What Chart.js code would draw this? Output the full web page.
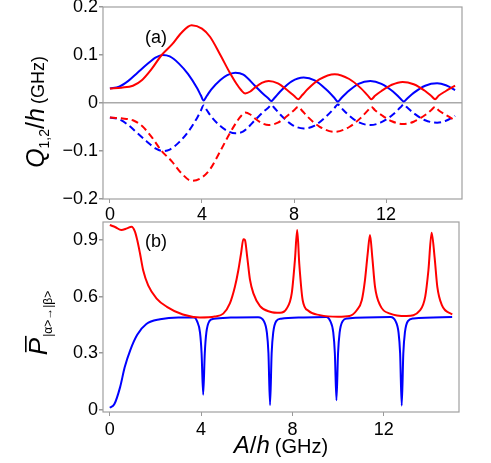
<!DOCTYPE html>
<html>
<head>
<meta charset="utf-8">
<script src="https://cdn.jsdelivr.net/npm/chart.js@4.4.1/dist/chart.umd.min.js"></script>
<style>
  html, body { margin: 0; padding: 0; background: #fff; }
  #wrap { position: relative; width: 491px; height: 463px; overflow: hidden; }
  canvas { position: absolute; left: 0; }
  #topChart { top: 0; }
  #bottomChart { top: 214px; }
</style>
</head>
<body>
<div id="wrap">
  <canvas id="topChart" width="491" height="230"></canvas>
  <canvas id="bottomChart" width="491" height="249"></canvas>
</div>
<script>
// tick values
const xTicks = [0, 4, 8, 12];
const qTicks = [-0.2, -0.1, 0, 0.1, 0.2];
const pTicks = [0, 0.3, 0.6, 0.9];

// (a) Q1,2/h : blue and red, solid = + branch, dashed = - branch
const qBlueX = [0, 0.4, 0.8, 1.2, 1.6, 2.0, 2.3, 2.6, 3.0, 3.4, 3.8, 3.95, 4.07, 4.2, 4.4, 4.8, 5.1, 5.45, 5.8, 6.3, 6.7, 6.88, 7.01, 7.14, 7.4, 7.9, 8.42, 8.9, 9.4, 9.75, 9.9, 10.05, 10.3, 10.8, 11.32, 11.8, 12.3, 12.63, 12.77, 12.91, 13.2, 13.7, 14.22, 14.6, 15.0];
const qBlueY = [0.030, 0.034, 0.046, 0.063, 0.080, 0.095, 0.100, 0.097, 0.082, 0.060, 0.030, 0.016, 0.005, 0.014, 0.028, 0.048, 0.058, 0.063, 0.059, 0.036, 0.017, 0.010, 0.004, 0.010, 0.024, 0.045, 0.053, 0.047, 0.028, 0.011, 0.003, 0.010, 0.022, 0.040, 0.046, 0.040, 0.024, 0.009, 0.003, 0.009, 0.021, 0.036, 0.041, 0.037, 0.027];
const qBlueNegY = [-0.030, -0.034, -0.046, -0.063, -0.080, -0.095, -0.100, -0.097, -0.082, -0.060, -0.030, -0.016, -0.005, -0.014, -0.028, -0.048, -0.058, -0.063, -0.059, -0.036, -0.017, -0.010, -0.004, -0.010, -0.024, -0.045, -0.053, -0.047, -0.028, -0.011, -0.003, -0.010, -0.022, -0.040, -0.046, -0.040, -0.024, -0.009, -0.003, -0.009, -0.021, -0.036, -0.041, -0.037, -0.027];

const qRedX = [0, 0.5, 1.0, 1.4, 1.8, 2.25, 2.7, 3.1, 3.55, 4.0, 4.35, 4.8, 5.2, 5.5, 5.7, 5.88, 6.1, 6.3, 6.6, 6.9, 7.3, 7.7, 8.0, 8.18, 8.35, 8.6, 9.1, 9.77, 10.4, 10.9, 11.2, 11.36, 11.52, 11.8, 12.25, 12.72, 13.2, 13.7, 13.98, 14.13, 14.28, 14.6, 15.0];
const qRedY = [0.030, 0.032, 0.036, 0.048, 0.070, 0.100, 0.122, 0.146, 0.162, 0.155, 0.138, 0.100, 0.064, 0.040, 0.027, 0.020, 0.024, 0.032, 0.042, 0.046, 0.041, 0.027, 0.015, 0.008, 0.016, 0.029, 0.049, 0.060, 0.050, 0.031, 0.016, 0.008, 0.015, 0.025, 0.038, 0.044, 0.039, 0.025, 0.014, 0.008, 0.015, 0.025, 0.036];
const qRedNegY = [-0.030, -0.032, -0.036, -0.048, -0.070, -0.100, -0.122, -0.146, -0.162, -0.155, -0.138, -0.100, -0.064, -0.040, -0.027, -0.020, -0.024, -0.032, -0.042, -0.046, -0.041, -0.027, -0.015, -0.008, -0.016, -0.029, -0.049, -0.060, -0.050, -0.031, -0.016, -0.008, -0.015, -0.025, -0.038, -0.044, -0.039, -0.025, -0.014, -0.008, -0.015, -0.025, -0.036];

// (b) averaged transition probability
const pRedX = [0, 0.25, 0.5, 0.75, 0.95, 1.1, 1.2, 1.32, 1.46, 1.68, 2.05, 2.5, 3.2, 3.95, 4.6, 4.97, 5.26, 5.48, 5.63, 5.75, 5.85, 5.92, 6.02, 6.14, 6.29, 6.58, 7.02, 7.46, 7.75, 7.97, 8.11, 8.21, 8.3, 8.45, 8.7, 9.2, 10.0, 10.5, 10.82, 11.04, 11.18, 11.3, 11.4, 11.5, 11.62, 11.84, 12.28, 13.0, 13.6, 13.82, 13.96, 14.1, 14.23, 14.35, 14.55, 15.0];
const pRedY = [0.980, 0.968, 0.953, 0.962, 0.971, 0.945, 0.900, 0.830, 0.740, 0.660, 0.590, 0.546, 0.505, 0.490, 0.495, 0.510, 0.564, 0.652, 0.740, 0.830, 0.905, 0.900, 0.810, 0.690, 0.617, 0.550, 0.520, 0.514, 0.537, 0.617, 0.794, 0.953, 0.776, 0.581, 0.525, 0.502, 0.493, 0.497, 0.528, 0.581, 0.688, 0.830, 0.927, 0.810, 0.652, 0.555, 0.510, 0.497, 0.528, 0.600, 0.740, 0.939, 0.810, 0.652, 0.555, 0.505];

const pBlueX = [0, 0.2, 0.45, 0.65, 0.9, 1.2, 1.6, 2.2, 3.0, 3.7, 3.82, 3.95, 4.02, 4.09, 4.16, 4.23, 4.36, 4.55, 5.3, 6.5, 6.75, 6.88, 6.95, 7.02, 7.09, 7.16, 7.29, 7.5, 8.5, 9.5, 9.66, 9.79, 9.86, 9.93, 10.0, 10.07, 10.2, 10.4, 12.3, 12.52, 12.65, 12.72, 12.79, 12.86, 12.93, 13.06, 13.3, 15.0];
const pBlueY = [0.010, 0.030, 0.120, 0.225, 0.318, 0.398, 0.455, 0.480, 0.490, 0.490, 0.470, 0.410, 0.300, 0.080, 0.300, 0.410, 0.470, 0.482, 0.489, 0.491, 0.470, 0.410, 0.300, 0.025, 0.300, 0.410, 0.470, 0.483, 0.490, 0.492, 0.470, 0.410, 0.300, 0.050, 0.300, 0.410, 0.470, 0.484, 0.492, 0.470, 0.410, 0.300, 0.022, 0.300, 0.410, 0.470, 0.484, 0.492];

const RED = '#ff0000';
const BLUE = '#0000ff';
const FONT = "'Liberation Sans', Arial, sans-serif";
const FRAME = '#a0a0a0';

function line(xs, ys, color, dashed) {
  return {
    data: xs.map((x, i) => ({ x, y: ys[i] })),
    showLine: true,
    borderColor: color,
    borderWidth: 2,
    borderDash: dashed ? [7, 4] : [],
    pointRadius: 0,
    cubicInterpolationMode: 'monotone',
    fill: false
  };
}

function minusLabel(v) {
  if (v === 0) return '0';
  return v < 0 ? '\u2212' + Math.abs(v) : String(v);
}

// no extra padding from tick labels, so the plot box lands where the layout says
function noPad(s) {
  s.paddingTop = 0; s.paddingBottom = 0; s.paddingLeft = 0; s.paddingRight = 0;
}

function xScale(axisHeight, pad) {
  return {
    type: 'linear', min: -0.3, max: 15.3,
    afterBuildTicks: s => { s.ticks = xTicks.map(v => ({ value: v })); },
    afterFit: s => { s.height = axisHeight; noPad(s); },
    grid: { drawOnChartArea: false, tickLength: 4, tickColor: '#999' },
    border: { display: false },
    ticks: { color: '#000', font: { family: FONT, size: 18 }, padding: pad, maxRotation: 0, callback: v => String(v) }
  };
}

function yScale(min, max, ticks, zeroLine) {
  return {
    type: 'linear', min, max,
    afterBuildTicks: s => { s.ticks = ticks.map(v => ({ value: v })); },
    afterFit: s => { s.width = 103; noPad(s); },
    grid: {
      drawOnChartArea: zeroLine,
      color: c => (zeroLine && c.tick && c.tick.value === 0) ? '#aaaaaa' : 'rgba(0,0,0,0)',
      lineWidth: 1.5,
      tickLength: 4,
      tickColor: '#999'
    },
    border: { display: false },
    ticks: { color: '#000', font: { family: FONT, size: 18 }, padding: 1, callback: minusLabel }
  };
}

// gray box round the plot area
const framePlugin = {
  id: 'frame',
  afterDatasetsDraw(chart) {
    const { ctx, chartArea: a } = chart;
    ctx.save();
    ctx.strokeStyle = FRAME;
    ctx.lineWidth = 1.2;
    ctx.strokeRect(a.left, a.top, a.right - a.left, a.bottom - a.top);
    ctx.restore();
  }
};

// text made of pieces with different fonts, centred on (cx, baseline cy)
function drawRuns(ctx, runs, cx, cy, rotate) {
  ctx.save();
  ctx.translate(cx, cy);
  if (rotate) ctx.rotate(-Math.PI / 2);
  ctx.fillStyle = '#000';
  ctx.textAlign = 'left';
  ctx.textBaseline = 'alphabetic';
  let total = 0;
  runs.forEach(r => { ctx.font = r.font; total += ctx.measureText(r.text).width + (r.gap || 0); });
  let x = -total / 2;
  runs.forEach(r => {
    ctx.font = r.font;
    const w = ctx.measureText(r.text).width;
    ctx.fillText(r.text, x, r.dy || 0);
    if (r.bar !== undefined) ctx.fillRect(x + 3, r.bar, w - 1, 1.6);
    x += w + (r.gap || 0);
  });
  ctx.restore();
}

const topText = {
  id: 'topText',
  afterDraw(chart) {
    const ctx = chart.ctx;
    ctx.save();
    ctx.font = '18px ' + FONT;
    ctx.fillStyle = '#000';
    ctx.textAlign = 'center';
    ctx.textBaseline = 'middle';
    ctx.fillText('(a)', 156, 38);
    ctx.restore();
    drawRuns(ctx, [
      { text: 'Q', font: 'italic 25px ' + FONT },
      { text: '1,2', font: '14px ' + FONT, dy: 5 },
      { text: '/', font: '25px ' + FONT },
      { text: 'h', font: 'italic 25px ' + FONT, gap: 4 },
      { text: '(GHz)', font: '18px ' + FONT }
    ], 44, 112, true);
  }
};

const bottomText = {
  id: 'bottomText',
  afterDraw(chart) {
    const ctx = chart.ctx;
    ctx.save();
    ctx.font = '18px ' + FONT;
    ctx.fillStyle = '#000';
    ctx.textAlign = 'center';
    ctx.textBaseline = 'middle';
    ctx.fillText('(b)', 156, 28);
    ctx.restore();
    drawRuns(ctx, [
      { text: 'P', font: 'italic 26px ' + FONT, bar: -22, gap: 1 },
      { text: '|\u03b1>\u2192|\u03b2>', font: '12px ' + FONT, dy: 5 }
    ], 47, 109, true);
    drawRuns(ctx, [
      { text: 'A', font: 'italic 24px ' + FONT },
      { text: '/', font: '24px ' + FONT },
      { text: 'h', font: 'italic 24px ' + FONT, gap: 5 },
      { text: '(GHz)', font: '20px ' + FONT }
    ], 281, 239, false);
  }
};

new Chart(document.getElementById('topChart'), {
  type: 'scatter',
  data: {
    datasets: [
      line(qRedX, qRedY, RED, false),
      line(qBlueX, qBlueY, BLUE, false),
      line(qRedX, qRedNegY, RED, true),
      line(qBlueX, qBlueNegY, BLUE, true)
    ]
  },
  options: {
    responsive: false,
    animation: false,
    layout: { padding: { top: 7, right: 29, left: 0, bottom: 0 } },
    plugins: { legend: { display: false }, tooltip: { enabled: false } },
    scales: { x: xScale(31, 1), y: yScale(-0.2, 0.2, qTicks, true) }
  },
  plugins: [framePlugin, topText]
});

new Chart(document.getElementById('bottomChart'), {
  type: 'scatter',
  data: {
    datasets: [
      line(pRedX, pRedY, RED, false),
      line(pBlueX, pBlueY, BLUE, false)
    ]
  },
  options: {
    responsive: false,
    animation: false,
    layout: { padding: { top: 8, right: 32, left: 0, bottom: 0 } },
    plugins: { legend: { display: false }, tooltip: { enabled: false } },
    scales: { x: xScale(51, 3), y: yScale(-0.012, 0.996, pTicks, false) }
  },
  plugins: [framePlugin, bottomText]
});
</script>
</body>
</html>
